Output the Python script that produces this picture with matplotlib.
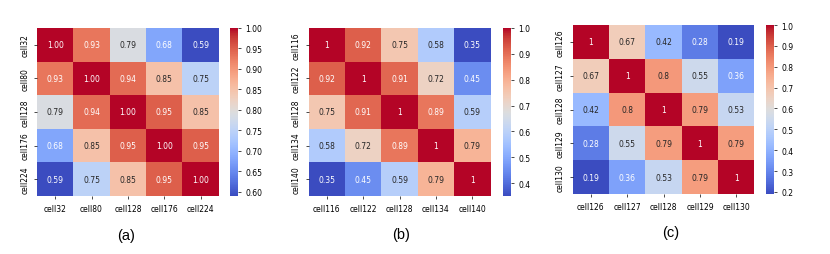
import matplotlib
matplotlib.use("Agg")
import matplotlib.pyplot as plt
import numpy as np
import seaborn as sns

labels_a = ["cell32", "cell80", "cell128", "cell176", "cell224"]
vals_a = [[1.00, 0.93, 0.79, 0.68, 0.59],
          [0.93, 1.00, 0.94, 0.85, 0.75],
          [0.79, 0.94, 1.00, 0.95, 0.85],
          [0.68, 0.85, 0.95, 1.00, 0.95],
          [0.59, 0.75, 0.85, 0.95, 1.00]]

labels_b = ["cell116", "cell122", "cell128", "cell134", "cell140"]
vals_b = [[1, 0.92, 0.75, 0.58, 0.35],
          [0.92, 1, 0.91, 0.72, 0.45],
          [0.75, 0.91, 1, 0.89, 0.59],
          [0.58, 0.72, 0.89, 1, 0.79],
          [0.35, 0.45, 0.59, 0.79, 1]]

labels_c = ["cell126", "cell127", "cell128", "cell129", "cell130"]
vals_c = [[1, 0.67, 0.42, 0.28, 0.19],
          [0.67, 1, 0.8, 0.55, 0.36],
          [0.42, 0.8, 1, 0.79, 0.53],
          [0.28, 0.55, 0.79, 1, 0.79],
          [0.19, 0.36, 0.53, 0.79, 1]]

panels = [
    (vals_a, labels_a, ".2f", "(a)", [0.0446, 0.2275, 0.219, 0.659], [0.277, 0.2275, 0.0096, 0.659], (0.152, 0.075)),
    (vals_b, labels_b, "g", "(b)", [0.372, 0.2275, 0.219, 0.659], [0.606, 0.2275, 0.0096, 0.659], (0.483, 0.078)),
    (vals_c, labels_c, "g", "(c)", [0.690, 0.235, 0.219, 0.663], [0.923, 0.235, 0.0096, 0.663], (0.808, 0.086)),
]

fig = plt.figure(figsize=(8.3, 2.55), dpi=100)

for vals, labels, fmt, tag, ax_rect, cb_rect, tag_pos in panels:
    ax = fig.add_axes(ax_rect)
    cax = fig.add_axes(cb_rect)
    sns.heatmap(np.array(vals), annot=True, fmt=fmt, cmap="coolwarm",
                xticklabels=labels, yticklabels=labels, ax=ax, cbar_ax=cax,
                annot_kws={"fontsize": 5.5})
    ax.tick_params(labelsize=5.5, length=2, width=0.5)
    plt.setp(ax.get_xticklabels(), rotation=0)
    plt.setp(ax.get_yticklabels(), rotation=90, va="center")
    cax.tick_params(labelsize=5.5, length=2, width=0.5)
    # panel tag under each heatmap
    fig.text(tag_pos[0], tag_pos[1], tag, ha="center", va="center",
             fontsize=10.5, family="Liberation Sans")

fig.savefig("out.png", dpi=100)
